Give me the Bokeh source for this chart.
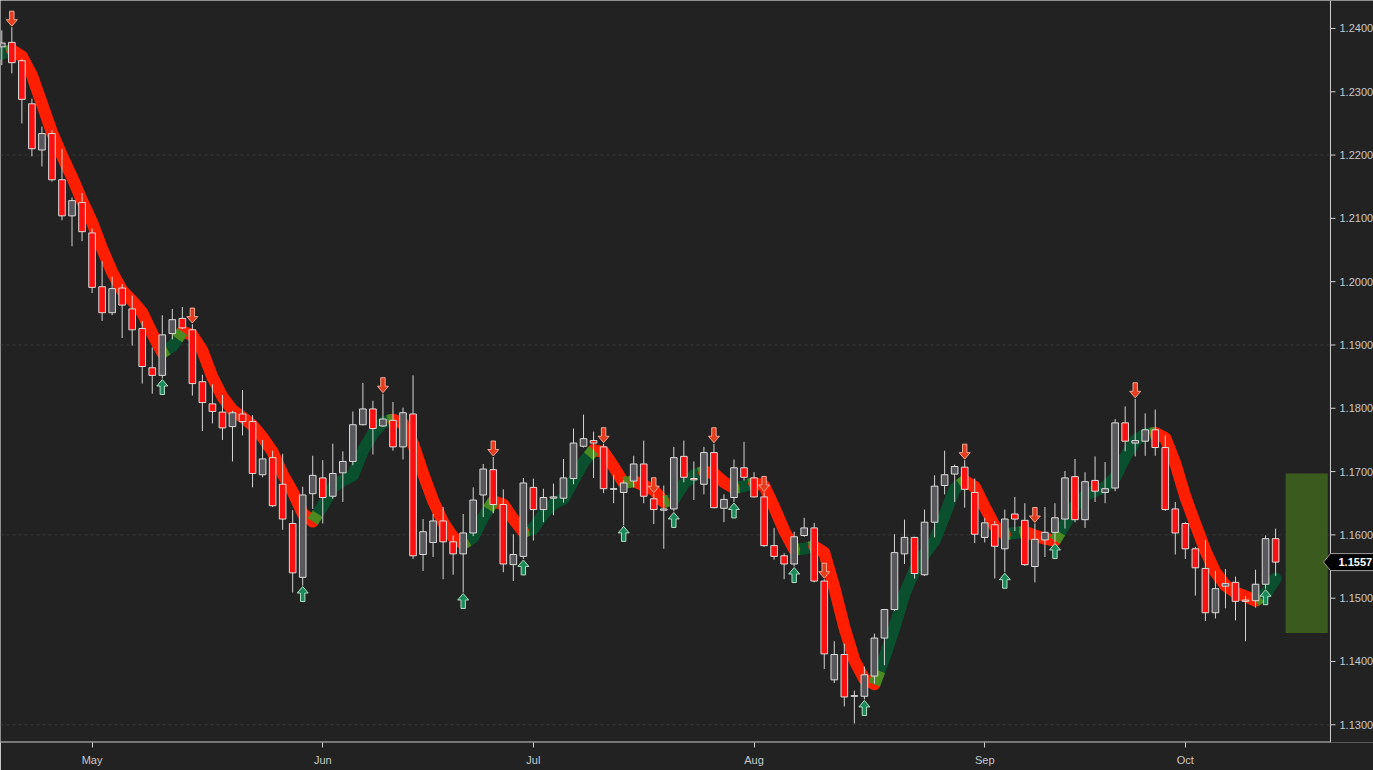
import numpy as np
import pandas as pd
from bokeh.core.properties import value
from bokeh.embed import file_html
from bokeh.models import ColumnDataSource, FixedTicker, Range1d
from bokeh.plotting import figure
from bokeh.resources import INLINE

# EUR/USD daily candles, 18 Apr - 12 Oct 2018 (one bar per weekday)
DATES = pd.bdate_range("2018-04-18", "2018-10-12")

OPEN = [1.2371, 1.2378, 1.2349, 1.2281, 1.2208, 1.2234, 1.2161, 1.2104, 1.2125, 1.2077,
        1.1992, 1.1951, 1.1990, 1.1957, 1.1926, 1.1864, 1.1852, 1.1918, 1.1942, 1.1924,
        1.1842, 1.1807, 1.1794, 1.1771, 1.1791, 1.1779, 1.1695, 1.1722, 1.1680, 1.1618,
        1.1533, 1.1665, 1.1690, 1.1661, 1.1698, 1.1716, 1.1774, 1.1799, 1.1772, 1.1781,
        1.1739, 1.1791, 1.1569, 1.1588, 1.1622, 1.1589, 1.1570, 1.1603, 1.1663, 1.1703,
        1.1648, 1.1553, 1.1566, 1.1675, 1.1640, 1.1658, 1.1658, 1.1689, 1.1740, 1.1749,
        1.1739, 1.1672, 1.1667, 1.1685, 1.1712, 1.1657, 1.1639, 1.1641, 1.1724, 1.1689,
        1.1680, 1.1730, 1.1642, 1.1659, 1.1706, 1.1690, 1.1660, 1.1583, 1.1567, 1.1554,
        1.1599, 1.1611, 1.1527, 1.1371, 1.1411, 1.1345, 1.1345, 1.1377, 1.1437, 1.1482,
        1.1570, 1.1596, 1.1537, 1.1620, 1.1678, 1.1696, 1.1707, 1.1667, 1.1596, 1.1616,
        1.1578, 1.1633, 1.1623, 1.1550, 1.1592, 1.1604, 1.1625, 1.1692, 1.1624, 1.1686,
        1.1667, 1.1674, 1.1777, 1.1745, 1.1748, 1.1766, 1.1738, 1.1641, 1.1618, 1.1578,
        1.1547, 1.1477, 1.1519, 1.1525, 1.1497, 1.1496, 1.1522, 1.1594]

HIGH = [1.2397, 1.2402, 1.2352, 1.2289, 1.2245, 1.2239, 1.2210, 1.2133, 1.2140, 1.2084,
        1.2032, 1.2008, 1.1996, 1.1978, 1.1938, 1.1896, 1.1947, 1.1957, 1.1960, 1.1933,
        1.1853, 1.1838, 1.1821, 1.1796, 1.1829, 1.1789, 1.1750, 1.1733, 1.1728, 1.1639,
        1.1676, 1.1725, 1.1718, 1.1744, 1.1732, 1.1795, 1.1840, 1.1812, 1.1823, 1.1810,
        1.1801, 1.1852, 1.1625, 1.1633, 1.1644, 1.1599, 1.1633, 1.1675, 1.1712, 1.1723,
        1.1672, 1.1601, 1.1690, 1.1689, 1.1673, 1.1681, 1.1720, 1.1768, 1.1790, 1.1763,
        1.1744, 1.1695, 1.1686, 1.1725, 1.1749, 1.1665, 1.1678, 1.1739, 1.1749, 1.1716,
        1.1739, 1.1744, 1.1664, 1.1719, 1.1747, 1.1699, 1.1667, 1.1611, 1.1571, 1.1605,
        1.1627, 1.1619, 1.1530, 1.1432, 1.1428, 1.1354, 1.1392, 1.1444, 1.1483, 1.1601,
        1.1624, 1.1597, 1.1640, 1.1694, 1.1733, 1.1711, 1.1718, 1.1689, 1.1627, 1.1622,
        1.1640, 1.1660, 1.1650, 1.1618, 1.1644, 1.1650, 1.1701, 1.1720, 1.1699, 1.1724,
        1.1715, 1.1783, 1.1803, 1.1815, 1.1792, 1.1798, 1.1757, 1.1652, 1.1620, 1.1581,
        1.1592, 1.1543, 1.1546, 1.1534, 1.1503, 1.1545, 1.1599, 1.1610]

LOW = [1.2342, 1.2329, 1.2250, 1.2198, 1.2182, 1.2158, 1.2097, 1.2056, 1.2064, 1.1982,
       1.1938, 1.1947, 1.1911, 1.1899, 1.1839, 1.1823, 1.1847, 1.1909, 1.1925, 1.1820,
       1.1764, 1.1776, 1.1750, 1.1716, 1.1757, 1.1675, 1.1691, 1.1644, 1.1608, 1.1509,
       1.1520, 1.1641, 1.1618, 1.1657, 1.1652, 1.1710, 1.1773, 1.1727, 1.1771, 1.1733,
       1.1719, 1.1562, 1.1543, 1.1565, 1.1530, 1.1537, 1.1509, 1.1598, 1.1628, 1.1634,
       1.1541, 1.1527, 1.1562, 1.1591, 1.1620, 1.1631, 1.1651, 1.1680, 1.1738, 1.1690,
       1.1666, 1.1650, 1.1615, 1.1675, 1.1650, 1.1617, 1.1578, 1.1637, 1.1683, 1.1655,
       1.1664, 1.1642, 1.1620, 1.1652, 1.1686, 1.1659, 1.1581, 1.1561, 1.1530, 1.1550,
       1.1597, 1.1525, 1.1388, 1.1366, 1.1329, 1.1302, 1.1340, 1.1365, 1.1394, 1.1480,
       1.1554, 1.1531, 1.1535, 1.1596, 1.1664, 1.1652, 1.1643, 1.1587, 1.1588, 1.1531,
       1.1541, 1.1606, 1.1551, 1.1525, 1.1565, 1.1588, 1.1610, 1.1620, 1.1611, 1.1652,
       1.1650, 1.1669, 1.1732, 1.1724, 1.1725, 1.1725, 1.1638, 1.1569, 1.1562, 1.1504,
       1.1464, 1.1468, 1.1484, 1.1465, 1.1432, 1.1485, 1.1515, 1.1535]

CLOSE = [1.2377, 1.2346, 1.2288, 1.2210, 1.2234, 1.2161, 1.2104, 1.2128, 1.2079, 1.1991,
         1.1951, 1.1989, 1.1963, 1.1924, 1.1866, 1.1852, 1.1916, 1.1940, 1.1927, 1.1839,
         1.1809, 1.1795, 1.1769, 1.1793, 1.1779, 1.1697, 1.1720, 1.1646, 1.1625, 1.1540,
         1.1663, 1.1694, 1.1659, 1.1697, 1.1716, 1.1774, 1.1799, 1.1768, 1.1783, 1.1739,
         1.1793, 1.1567, 1.1605, 1.1622, 1.1589, 1.1570, 1.1603, 1.1655, 1.1704, 1.1648,
         1.1554, 1.1569, 1.1682, 1.1640, 1.1659, 1.1660, 1.1690, 1.1745, 1.1752, 1.1745,
         1.1673, 1.1673, 1.1682, 1.1712, 1.1661, 1.1640, 1.1641, 1.1722, 1.1691, 1.1687,
         1.1730, 1.1643, 1.1656, 1.1706, 1.1691, 1.1660, 1.1583, 1.1566, 1.1554, 1.1597,
         1.1611, 1.1527, 1.1412, 1.1411, 1.1344, 1.1346, 1.1379, 1.1437, 1.1482, 1.1572,
         1.1596, 1.1539, 1.1620, 1.1677, 1.1695, 1.1708, 1.1672, 1.1601, 1.1619, 1.1582,
         1.1625, 1.1625, 1.1553, 1.1593, 1.1604, 1.1627, 1.1690, 1.1624, 1.1684, 1.1669,
         1.1673, 1.1777, 1.1748, 1.1749, 1.1766, 1.1738, 1.1640, 1.1603, 1.1578, 1.1548,
         1.1477, 1.1515, 1.1523, 1.1495, 1.1495, 1.1522, 1.1594, 1.1557]

# smoothed trend line drawn under the candles
TREND = [1.2360, 1.2366, 1.2356, 1.2326, 1.2281, 1.2236, 1.2199, 1.2165, 1.2128, 1.2094,
         1.2052, 1.2015, 1.1986, 1.1970, 1.1951, 1.1918, 1.1888, 1.1898, 1.1921, 1.1916,
         1.1891, 1.1849, 1.1818, 1.1797, 1.1786, 1.1773, 1.1754, 1.1731, 1.1696, 1.1668,
         1.1634, 1.1621, 1.1646, 1.1675, 1.1686, 1.1694, 1.1733, 1.1760, 1.1778, 1.1782,
         1.1776, 1.1744, 1.1697, 1.1654, 1.1620, 1.1596, 1.1586, 1.1596, 1.1628, 1.1653,
         1.1648, 1.1625, 1.1605, 1.1610, 1.1633, 1.1649, 1.1657, 1.1686, 1.1715, 1.1734,
         1.1731, 1.1708, 1.1682, 1.1685, 1.1678, 1.1671, 1.1652, 1.1656, 1.1681, 1.1694,
         1.1700, 1.1697, 1.1683, 1.1674, 1.1677, 1.1682, 1.1678, 1.1644, 1.1607, 1.1577,
         1.1578, 1.1582, 1.1572, 1.1517, 1.1454, 1.1402, 1.1372, 1.1364, 1.1406, 1.1454,
         1.1507, 1.1544, 1.1570, 1.1591, 1.1631, 1.1673, 1.1685, 1.1676, 1.1644, 1.1614,
         1.1601, 1.1603, 1.1605, 1.1599, 1.1594, 1.1591, 1.1617, 1.1646, 1.1662, 1.1670,
         1.1675, 1.1691, 1.1723, 1.1749, 1.1759, 1.1761, 1.1753, 1.1713, 1.1660, 1.1617,
         1.1575, 1.1541, 1.1520, 1.1509, 1.1503, 1.1496, 1.1507, 1.1531]

# bar numbers carrying signal arrows
SELL_BARS = [1, 19, 38, 49, 60, 65, 71, 76, 82, 96, 103, 113]
BUY_BARS = [16, 30, 46, 52, 62, 67, 73, 79, 86, 100, 105, 126]

PRICE_TICKS = [1.13, 1.14, 1.15, 1.16, 1.17, 1.18, 1.19, 1.20, 1.21, 1.22, 1.23, 1.24]
GRID_TICKS = [1.13, 1.16, 1.19, 1.22]

# projected zone to the right of the last bar
ZONE_LEFT, ZONE_RIGHT = 128, 132.2
ZONE_TOP, ZONE_BOTTOM = 1.1697, 1.1445

# ---------------------------------------------------------------------------
# the frame spans the whole width; the price scale is drawn inside it
W, H = 1373, 770
FRAME_W, FRAME_H = 1373, 742
X_START, X_END = -0.13, 136.76
SCALE_X = 132.47            # bar-number position of the price scale line
Y_BOTTOM, Y_TOP = 1.12720, 1.24442
px_x = (X_END - X_START) / FRAME_W
px_y = (Y_TOP - Y_BOTTOM) / FRAME_H

BG = "#222222"
AXIS = "#cfcfcf"
LABEL = "#c8c8c8"
FONT = "Liberation Sans"

n = len(CLOSE)
idx = np.arange(n)
o, h, l, c = map(np.array, (OPEN, HIGH, LOW, CLOSE))
trend = np.array(TREND)

p = figure(width=W, height=H, x_range=Range1d(X_START, X_END),
           y_range=Range1d(Y_BOTTOM, Y_TOP), y_axis_location=None,
           output_backend="svg", toolbar_location=None, tools="",
           min_border_left=0, min_border_top=0, min_border_right=0,
           min_border_bottom=H - FRAME_H,
           background_fill_color=BG, border_fill_color=BG, outline_line_color=None)
p.grid.visible = False

# month ticks at the first bar of every month
month_bars = [i for i in range(1, n) if DATES[i].month != DATES[i - 1].month]
xa = p.xaxis[0]
xa.ticker = FixedTicker(ticks=month_bars)
xa.major_label_overrides = {i: DATES[i].strftime("%b") for i in month_bars}
xa.axis_line_color = None
xa.major_tick_line_color = AXIS
xa.minor_tick_line_color = None
xa.major_tick_in = 0
xa.major_tick_out = 5
xa.major_label_standoff = 6
xa.major_label_text_color = LABEL
xa.major_label_text_font = FONT
xa.major_label_text_font_size = "11px"

# dashed grid and the two scale lines
p.segment(x0=X_START, x1=SCALE_X, y0=GRID_TICKS, y1=GRID_TICKS,
          line_color="#3a3a3a", line_width=1, line_dash="3 3")
p.segment(x0=[X_START], x1=[SCALE_X], y0=[Y_BOTTOM + 0.5 * px_y], y1=[Y_BOTTOM + 0.5 * px_y],
          line_color=AXIS, line_width=1)
p.segment(x0=[SCALE_X], x1=[SCALE_X], y0=[Y_BOTTOM], y1=[Y_TOP], line_color=AXIS, line_width=1)

# zone box
p.quad(left=[ZONE_LEFT], right=[ZONE_RIGHT], top=[ZONE_TOP], bottom=[ZONE_BOTTOM],
       fill_color="#3b5a1d", line_color=None)

# trend line, split in falling (red) and rising (green) runs
seg_dir = np.sign(np.diff(trend))
runs = []
start = 0
for k in range(1, len(seg_dir)):
    if seg_dir[k] != seg_dir[start]:
        runs.append((start, k, seg_dir[start]))
        start = k
runs.append((start, len(seg_dir), seg_dir[start]))

for want, color in ((1, "#0a4f2e"), (-1, "#ff1e00")):
    sel = [r for r in runs if r[2] == want]
    p.multi_line(xs=[list(idx[s:e + 1]) for s, e, _ in sel],
                 ys=[list(trend[s:e + 1]) for s, e, _ in sel],
                 line_color=color, line_width=12, line_join="round", line_cap="round")

# light green wedges where a rising run starts or ends
ox, oy = [], []
for r in range(len(runs) - 1):
    t = runs[r][1]
    if runs[r + 1][2] > 0:
        ox.append([t, t + 0.5])
        oy.append([trend[t], (trend[t] + trend[t + 1]) / 2])
    if runs[r][2] > 0:
        ox.append([t - 0.5, t])
        oy.append([(trend[t - 1] + trend[t]) / 2, trend[t]])
p.multi_line(xs=ox, ys=oy, line_color="#4a8a20", line_width=12, line_cap="butt")

# candles
up = c >= o
src = ColumnDataSource(dict(x=idx, high=h, low=l,
                            top=np.maximum(o, c), bottom=np.minimum(o, c),
                            fill=np.where(up, "#58585c", "#ff1010")))
p.segment(x0="x", y0="low", x1="x", y1="high", source=src, line_color="#d4d4d4", line_width=1)
p.vbar(x="x", width=0.66, top="top", bottom="bottom", source=src,
       fill_color="fill", line_color="#dcdcdc", line_width=1)

# signal arrows (shape in pixels, tip at the bar's extreme)
ARROW = [(0, 0), (5.5, 6.5), (2.2, 6.5), (2.2, 15), (-2.2, 15), (-2.2, 6.5), (-5.5, 6.5)]


def arrows(bars, tips, sign):
    xs = [[b + dx * px_x for dx, _ in ARROW] for b in bars]
    ys = [[t + sign * (dy + 1) * px_y for _, dy in ARROW] for t in tips]
    return xs, ys


sx, sy = arrows(SELL_BARS, h[SELL_BARS], 1)
p.patches(xs=sx, ys=sy, fill_color="#e63c1e", line_color="#f0a898", line_width=1)
bx, by = arrows(BUY_BARS, l[BUY_BARS], -1)
p.patches(xs=bx, ys=by, fill_color="#1a8a5a", line_color="#b4dcc4", line_width=1)

# price scale ticks and labels
p.segment(x0=SCALE_X, x1=SCALE_X + 5 * px_x, y0=PRICE_TICKS, y1=PRICE_TICKS,
          line_color=AXIS, line_width=1)
p.text(x=[SCALE_X + 9 * px_x] * len(PRICE_TICKS), y=PRICE_TICKS,
       text=[f"{t:.4f}" for t in PRICE_TICKS], text_baseline="middle", text_align="left",
       text_color=LABEL, text_font=value(FONT), text_font_size="11px")

# last price tag
last = c[-1]
half = 8.5 * px_y
p.patch(x=[SCALE_X - 7 * px_x, SCALE_X, X_END + 1, X_END + 1, SCALE_X],
        y=[last, last + half, last + half, last - half, last - half],
        fill_color="black", line_color="#a0a0a0", line_width=1)
p.text(x=[SCALE_X + 8 * px_x], y=[last], text=[f"{last:.4f}"], text_baseline="middle",
       text_align="left", text_color="white", text_font=value(FONT),
       text_font_size="11px", text_font_style="bold")

open("out.html", "w").write(file_html(p, INLINE))
